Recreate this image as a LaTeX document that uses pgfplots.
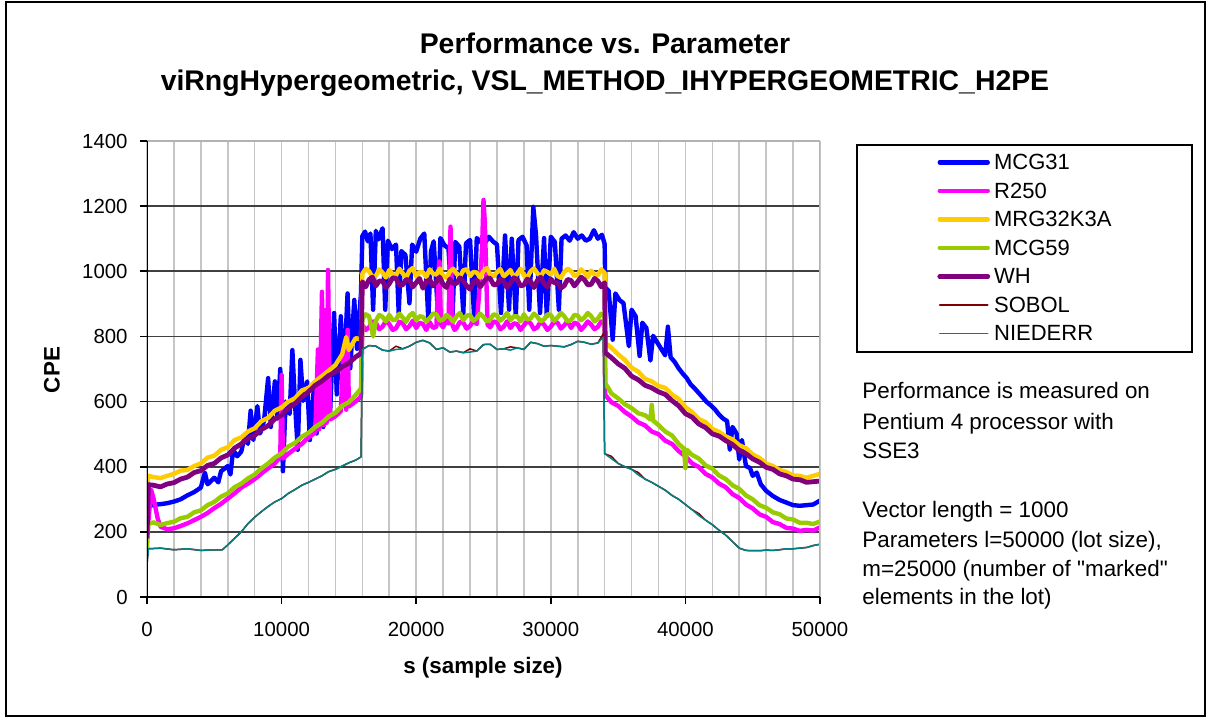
\documentclass[border=0pt]{standalone}
\usepackage{fontspec}
\setmainfont{Liberation Sans}[Ligatures=TeXOff]
\usepackage{pgfplots}
\pgfplotsset{compat=1.18}
\definecolor{cMCG31}{RGB}{0,0,255}
\definecolor{cR250}{RGB}{255,0,255}
\definecolor{cMRG}{RGB}{255,204,0}
\definecolor{cMCG59}{RGB}{153,204,0}
\definecolor{cWH}{RGB}{128,0,128}
\definecolor{cSOBOL}{RGB}{128,0,0}
\definecolor{cNIED}{RGB}{0,128,128}
\begin{document}
\begin{tikzpicture}
\begin{scope}[x=0.5pt,y=0.5pt]
\fill[white] (0,0) rectangle (1212,719);
\draw[black, line width=0.6pt] (6,3) rectangle (1205,717);
\node[anchor=base, font=\fontsize{14.2}{17}\selectfont\bfseries] at (605,665) {Performance vs. Parameter};
\node[anchor=base, font=\fontsize{14.2}{17}\selectfont\bfseries] at (605,628) {viRngHypergeometric, VSL\char95 METHOD\char95 IHYPERGEOMETRIC\char95 H2PE};
\node[rotate=90, font=\fontsize{11.2}{13}\selectfont\bfseries] at (52,349) {CPE};
\node[font=\fontsize{11.2}{13}\selectfont\bfseries] at (483,51) {s (sample size)};
\draw[black, line width=0.7pt] (857,367) rectangle (1192,574);
\begin{scope}[every node/.style={anchor=base west, inner sep=0pt, font=\fontsize{11.2}{13}\selectfont}]
\node at (862,321) {Performance is measured on};
\node at (862,289.5) {Pentium 4 processor with};
\node at (862,261) {SSE3};
\node at (862,201) {Vector length = 1000};
\node at (862,171) {Parameters l=50000 (lot size),};
\node at (862,142.5) {m=25000 (number of "marked"};
\node at (862,114.5) {elements in the lot)};
\end{scope}
\end{scope}
\begin{axis}[
  at={(73.5pt,61pt)}, anchor=south west,
  scale only axis, width=336.5pt, height=228pt,
  xmin=0, xmax=50000, ymin=0, ymax=1400,
  xtick={0,10000,...,50000}, ytick={0,200,...,1400},
  scaled x ticks=false, scaled y ticks=false,
  minor xtick={2000,4000,...,48000},
  xmajorgrids, xminorgrids, ymajorgrids,
  grid style={}, major grid style={}, minor grid style={},
  x grid style={gray!45, line width=0.8pt},
  y grid style={black!75, line width=0.9pt},
  tick align=outside, tick pos=left,
  major tick length=3.5pt, minor tick length=0pt,
  tick style={black, line width=0.8pt},
  axis line style={draw=none},
  ticklabel style={font=\fontsize{10.2}{12}\selectfont},
  /pgf/number format/assume math mode=true,
  /pgf/number format/1000 sep={},
  xticklabel style={anchor=north, inner sep=0pt, yshift=-9pt},
  yticklabel style={anchor=east, inner sep=0pt, xshift=-6pt},
  legend cell align=left,
  legend style={at={(1.1738,0.9715)}, anchor=north west, draw=none, fill=none,
    inner sep=0pt, row sep=6.25pt, column sep=2pt,
    nodes={inner sep=0pt, text height=7.6pt, text depth=0.4pt, font=\fontsize{11}{13}\selectfont}},
  legend image code/.code={\draw[#1, line cap=round] (1pt,0pt) -- (25pt,0pt);},
  line join=round,
]
\addplot[cMCG31, line width=2.2pt] table[row sep=\\] {x y\\
0 250\\ 200 280\\ 500 283\\ 1000 285\\ 1500 288\\ 2000 293\\ 2500 300\\ 3000 312\\ 3500 322\\ 4000 336\\ 4300 382\\ 4500 346\\ 5000 366\\ 5300 352\\ 5500 386\\ 6000 402\\ 6200 376\\ 6400 452\\ 6700 432\\ 7000 446\\ 7300 500\\ 7500 470\\ 7700 572\\ 7900 482\\ 8200 586\\ 8400 502\\ 8700 542\\ 9000 672\\ 9200 522\\ 9500 662\\ 9700 548\\ 9900 700\\ 10100 386\\ 10300 600\\ 10600 562\\ 10800 758\\ 11000 592\\ 11200 452\\ 11400 728\\ 11600 602\\ 11900 662\\ 12100 482\\ 12400 642\\ 12600 502\\ 12900 676\\ 13100 522\\ 13400 652\\ 13600 562\\ 13900 872\\ 14100 622\\ 14400 862\\ 14600 652\\ 14900 932\\ 15100 702\\ 15400 912\\ 15600 762\\ 15900 934\\
16000 1108\\ 16200 1122\\ 16400 1092\\ 16600 1116\\ 16800 882\\ 17000 1124\\ 17200 1098\\ 17500 1132\\ 17700 882\\ 17900 1094\\ 18200 1068\\ 18500 1082\\ 18700 872\\ 18900 1062\\ 19200 1050\\ 19500 902\\ 19700 1082\\ 20000 1060\\ 20300 1100\\ 20600 1116\\ 20900 852\\ 21100 1062\\ 21300 1092\\ 21600 882\\ 21800 1102\\ 22100 1080\\ 22400 1070\\ 22700 862\\ 22900 1090\\ 23200 1076\\ 23500 872\\ 23700 1086\\ 24000 1096\\ 24300 862\\ 24500 1102\\ 24800 1090\\ 25100 1086\\ 25400 1106\\ 25700 1092\\ 26000 1082\\ 26300 872\\ 26600 1110\\ 26900 882\\ 27100 1100\\ 27400 862\\ 27600 1096\\ 27900 1106\\ 28200 1080\\ 28400 882\\ 28700 1198\\ 28900 1112\\ 29200 872\\ 29500 1102\\ 29700 862\\ 30000 1106\\ 30300 1090\\ 30600 882\\ 30800 1100\\ 31100 1110\\ 31400 1094\\ 31700 1120\\ 32000 1100\\ 32300 1110\\ 32600 1094\\ 32900 1100\\ 33200 1126\\ 33500 1100\\ 33800 1112\\ 34000 1084\\
34050 950\\ 34300 940\\ 34600 790\\ 34800 932\\ 35100 912\\ 35400 902\\ 35800 770\\ 36000 882\\ 36300 862\\ 36600 740\\ 36800 842\\ 37100 826\\ 37400 726\\ 37600 802\\ 37900 782\\ 38200 762\\ 38500 742\\ 38700 830\\ 38900 736\\ 39200 722\\ 39500 702\\ 39800 686\\ 40100 672\\ 40400 652\\ 40700 640\\ 41000 626\\ 41300 612\\ 41600 598\\ 41900 588\\ 42200 576\\ 42500 560\\ 42800 548\\ 43100 540\\ 43300 452\\ 43500 522\\ 43800 502\\ 44000 422\\ 44200 482\\ 44500 402\\ 44800 396\\ 45000 372\\ 45300 382\\ 45600 346\\ 46000 326\\ 46500 310\\ 47000 298\\ 47500 290\\ 48000 282\\ 48500 280\\ 49000 282\\ 49500 284\\ 50000 296\\
};
\addlegendentry{MCG31}
\addplot[cR250, line width=2.2pt] table[row sep=\\] {x y\\
0 180\\ 150 255\\ 300 330\\ 500 300\\ 800 240\\ 1000 216\\ 1500 208\\ 2000 211\\ 2500 218\\ 3000 226\\ 3500 236\\ 4000 246\\ 4500 258\\ 5000 273\\ 5500 286\\ 6000 302\\ 6500 318\\ 7000 336\\ 7500 348\\ 8000 362\\ 8500 379\\ 9000 395\\ 9500 410\\ 9900 430\\ 10000 682\\ 10100 425\\ 10500 440\\ 11000 455\\ 11500 470\\ 12000 490\\ 12500 505\\ 12700 760\\ 12800 515\\ 13000 937\\ 13100 528\\ 13250 880\\ 13350 535\\ 13450 1004\\ 13600 545\\ 14000 555\\ 14400 570\\ 14600 760\\ 14800 575\\ 14900 820\\ 15000 585\\ 15500 600\\ 15900 615\\
16000 835\\ 16250 820\\ 16500 828\\ 16750 846\\ 17000 842\\ 17250 822\\ 17500 830\\ 17750 848\\ 18000 838\\ 18250 820\\ 18500 825\\ 18750 845\\ 19000 840\\ 19250 822\\ 19500 832\\ 19750 848\\ 20000 826\\ 20250 842\\ 20500 838\\ 20750 820\\ 21000 844\\ 21250 826\\ 21500 830\\ 21700 1030\\ 21850 836\\ 22000 828\\ 22200 846\\ 22400 840\\ 22550 1137\\ 22700 834\\ 22850 820\\ 23000 826\\ 23250 845\\ 23500 842\\ 23750 824\\ 24000 832\\ 24250 848\\ 24500 838\\ 24800 1000\\ 24900 1080\\ 25000 1219\\ 25100 1150\\ 25200 1000\\ 25300 836\\ 25500 828\\ 25750 846\\ 26000 842\\ 26250 822\\ 26500 830\\ 26750 846\\ 27000 826\\ 27250 840\\ 27500 838\\ 27750 820\\ 28000 834\\ 28250 848\\ 28500 840\\ 28750 822\\ 29000 828\\ 29250 846\\ 29500 836\\ 29750 820\\ 30000 830\\ 30250 845\\ 30500 842\\ 30750 824\\ 31000 834\\ 31250 848\\ 31500 826\\ 31750 842\\ 32000 838\\ 32250 820\\ 32500 832\\ 32750 846\\ 33000 836\\ 33250 822\\ 33500 830\\ 33750 846\\ 34000 838\\
34050 620\\ 34500 598\\ 35000 587\\ 35500 568\\ 36000 554\\ 36500 536\\ 37000 527\\ 37500 508\\ 38000 500\\ 38500 480\\ 39000 470\\ 39500 448\\ 40000 432\\ 40500 410\\ 41000 399\\ 41500 378\\ 42000 367\\ 42500 348\\ 43000 337\\ 43500 316\\ 44000 304\\ 44500 284\\ 45000 272\\ 45500 254\\ 46000 246\\ 46500 230\\ 47000 224\\ 47500 212\\ 48000 210\\ 48500 203\\ 49000 206\\ 49500 204\\ 50000 214\\
};
\addlegendentry{R250}
\addplot[cMRG, line width=2.2pt] table[row sep=\\] {x y\\
0 330\\ 100 372\\ 500 368\\ 1000 365\\ 1500 372\\ 2000 378\\ 2500 388\\ 3000 390\\ 3500 402\\ 4000 410\\ 4500 428\\ 5000 434\\ 5500 452\\ 6000 460\\ 6500 482\\ 7000 490\\ 7500 508\\ 8000 518\\ 8500 540\\ 9000 550\\ 9500 572\\ 10000 582\\ 10500 600\\ 11000 610\\ 11500 634\\ 12000 642\\ 12500 662\\ 13000 678\\ 13500 695\\ 14000 712\\ 14500 745\\ 14800 798\\ 15000 758\\ 15500 795\\ 15900 790\\
16000 992\\ 16250 1008\\ 16500 1000\\ 16750 983\\ 17000 985\\ 17250 1006\\ 17500 996\\ 17750 981\\ 18000 1004\\ 18250 990\\ 18500 987\\ 18750 1008\\ 19000 993\\ 19250 980\\ 19500 1002\\ 19750 1010\\ 20000 984\\ 20250 998\\ 20500 997\\ 20750 982\\ 21000 1006\\ 21250 992\\ 21500 990\\ 21750 1009\\ 22000 986\\ 22250 980\\ 22500 999\\ 22750 1008\\ 23000 992\\ 23250 983\\ 23500 1003\\ 23750 1006\\ 24000 985\\ 24250 998\\ 24500 996\\ 24750 981\\ 25000 1001\\ 25250 1010\\ 25500 990\\ 25750 984\\ 26000 997\\ 26250 1007\\ 26500 984\\ 26750 993\\ 27000 1004\\ 27250 982\\ 27500 992\\ 27750 1008\\ 28000 988\\ 28250 981\\ 28500 1000\\ 28750 1009\\ 29000 994\\ 29250 983\\ 29500 1003\\ 29750 998\\ 30000 990\\ 30250 1008\\ 30500 985\\ 30750 980\\ 31000 998\\ 31250 1008\\ 31500 1001\\ 31750 986\\ 32000 989\\ 32250 1006\\ 32500 996\\ 32750 982\\ 33000 1002\\ 33250 990\\ 33500 988\\ 33750 1006\\ 34000 995\\
34050 780\\ 34500 765\\ 35000 745\\ 35500 728\\ 36000 704\\ 36500 692\\ 37000 670\\ 37500 662\\ 38000 648\\ 38500 642\\ 39000 622\\ 39500 608\\ 40000 583\\ 40500 568\\ 41000 546\\ 41500 537\\ 42000 516\\ 42500 507\\ 43000 493\\ 43500 484\\ 44000 466\\ 44500 457\\ 45000 438\\ 45500 427\\ 46000 410\\ 46500 402\\ 47000 390\\ 47500 384\\ 48000 373\\ 48500 372\\ 49000 366\\ 49500 372\\ 50000 378\\
};
\addlegendentry{MRG32K3A}
\addplot[cMCG59, line width=2.2pt] table[row sep=\\] {x y\\
0 150\\ 100 226\\ 500 229\\ 1000 221\\ 1500 227\\ 2000 231\\ 2500 242\\ 3000 246\\ 3500 260\\ 4000 266\\ 4500 282\\ 5000 292\\ 5500 308\\ 6000 318\\ 6500 337\\ 7000 348\\ 7500 364\\ 8000 376\\ 8500 395\\ 9000 410\\ 9500 428\\ 10000 441\\ 10500 462\\ 11000 473\\ 11500 492\\ 12000 504\\ 12500 522\\ 13000 535\\ 13500 554\\ 14000 566\\ 14500 587\\ 15000 598\\ 15500 620\\ 15900 640\\
16000 852\\ 16250 868\\ 16500 862\\ 16800 800\\ 17000 848\\ 17250 866\\ 17500 860\\ 17750 846\\ 18000 866\\ 18250 850\\ 18500 852\\ 18750 870\\ 19000 858\\ 19250 845\\ 19500 864\\ 19750 872\\ 20000 850\\ 20250 862\\ 20500 860\\ 20750 846\\ 21000 856\\ 21250 870\\ 21500 868\\ 21750 848\\ 22000 852\\ 22250 866\\ 22500 858\\ 22750 845\\ 23000 862\\ 23250 872\\ 23500 850\\ 23750 864\\ 24000 866\\ 24250 848\\ 24500 856\\ 24750 870\\ 25000 860\\ 25250 846\\ 25500 852\\ 25750 868\\ 26000 864\\ 26250 848\\ 26500 858\\ 26750 872\\ 27000 850\\ 27250 862\\ 27500 862\\ 27750 846\\ 28000 868\\ 28250 852\\ 28500 855\\ 28750 870\\ 29000 860\\ 29250 846\\ 29500 852\\ 29750 868\\ 30000 866\\ 30250 848\\ 30500 858\\ 30750 872\\ 31000 862\\ 31250 846\\ 31500 850\\ 31750 866\\ 32000 864\\ 32250 850\\ 32500 858\\ 32750 872\\ 33000 862\\ 33250 846\\ 33500 855\\ 33750 870\\ 34000 860\\
34050 655\\ 34300 640\\ 34500 625\\ 35000 610\\ 35500 592\\ 36000 580\\ 36500 564\\ 37000 558\\ 37400 545\\ 37500 590\\ 37600 542\\ 38000 528\\ 38500 508\\ 39000 496\\ 39500 470\\ 39900 455\\ 40000 396\\ 40100 452\\ 40500 436\\ 41000 425\\ 41500 404\\ 42000 394\\ 42500 373\\ 43000 362\\ 43500 343\\ 44000 332\\ 44500 312\\ 45000 300\\ 45500 282\\ 46000 274\\ 46500 260\\ 47000 254\\ 47500 241\\ 48000 238\\ 48500 228\\ 49000 228\\ 49500 224\\ 50000 232\\
};
\addlegendentry{MCG59}
\addplot[cWH, line width=2.4pt] table[row sep=\\] {x y\\
0 180\\ 100 345\\ 500 343\\ 1000 338\\ 1500 347\\ 2000 351\\ 2500 362\\ 3000 368\\ 3500 382\\ 4000 388\\ 4500 404\\ 5000 410\\ 5500 427\\ 6000 436\\ 6500 457\\ 7000 470\\ 7500 487\\ 8000 496\\ 8500 514\\ 9000 526\\ 9500 547\\ 10000 558\\ 10500 580\\ 11000 593\\ 11500 614\\ 11900 626\\ 12500 650\\ 13000 663\\ 13500 680\\ 14000 690\\ 14500 707\\ 15000 718\\ 15500 737\\ 15900 748\\
16000 968\\ 16250 952\\ 16500 975\\ 16750 982\\ 17000 955\\ 17250 970\\ 17500 970\\ 17750 950\\ 18000 962\\ 18250 980\\ 18500 978\\ 18750 958\\ 19000 958\\ 19250 975\\ 19500 972\\ 19750 952\\ 20000 965\\ 20250 978\\ 20500 948\\ 20750 968\\ 21000 974\\ 21250 955\\ 21500 968\\ 21750 982\\ 22000 960\\ 22250 950\\ 22500 976\\ 22750 962\\ 23000 963\\ 23250 980\\ 23500 970\\ 23750 955\\ 24000 945\\ 24250 968\\ 24500 972\\ 24750 952\\ 25000 966\\ 25250 980\\ 25500 978\\ 25750 958\\ 26000 960\\ 26250 976\\ 26500 970\\ 26750 950\\ 27000 964\\ 27250 980\\ 27500 975\\ 27750 955\\ 28000 958\\ 28250 976\\ 28500 968\\ 28750 950\\ 29000 972\\ 29250 982\\ 29500 962\\ 29750 952\\ 30000 976\\ 30250 965\\ 30500 966\\ 30750 948\\ 31000 956\\ 31250 975\\ 31500 972\\ 31750 955\\ 32000 968\\ 32250 982\\ 32500 974\\ 32750 958\\ 33000 960\\ 33250 978\\ 33500 970\\ 33750 952\\ 34000 965\\
34050 750\\ 34500 735\\ 35000 716\\ 35500 702\\ 36000 678\\ 36500 667\\ 37000 650\\ 37500 642\\ 38000 630\\ 38500 622\\ 39000 603\\ 39500 587\\ 40000 563\\ 40500 552\\ 41000 531\\ 41500 520\\ 42000 501\\ 42500 494\\ 43000 480\\ 43500 468\\ 44000 450\\ 44500 440\\ 45000 424\\ 45500 414\\ 46000 398\\ 46500 392\\ 47000 378\\ 47500 372\\ 48000 362\\ 48500 360\\ 49000 352\\ 49500 354\\ 50000 356\\
};
\addlegendentry{WH}
\addplot[cSOBOL, line width=0.75pt] table[row sep=\\] {x y\\
0 100\\ 100 148\\ 1000 150\\ 2000 145\\ 3000 148\\ 4000 143\\ 5000 145\\ 5600 145\\ 6000 160\\ 6500 180\\ 7000 200\\ 7500 225\\ 8000 245\\ 8500 262\\ 9000 278\\ 9500 292\\ 10000 302\\ 10500 318\\ 11000 330\\ 11500 343\\ 12000 352\\ 12500 362\\ 13000 372\\ 13500 385\\ 14000 392\\ 14500 402\\ 15000 412\\ 15500 420\\ 15900 430\\ 16000 760\\ 16500 772\\ 17000 770\\ 17500 758\\ 18000 755\\ 18500 770\\ 19000 762\\ 19500 770\\ 20000 782\\ 20500 788\\ 21000 780\\ 21500 760\\ 22000 765\\ 22500 752\\ 23000 755\\ 23500 750\\ 24000 762\\ 24500 755\\ 25000 775\\ 25500 776\\ 26000 760\\ 26500 762\\ 27000 768\\ 27500 765\\ 28000 760\\ 28500 782\\ 29000 778\\ 29500 770\\ 30000 772\\ 30500 770\\ 31000 768\\ 31500 775\\ 32000 785\\ 32500 782\\ 33000 776\\ 33500 780\\ 33900 808\\ 34000 440\\ 34500 432\\ 35000 410\\ 35500 400\\ 36000 392\\ 36500 382\\ 37000 362\\ 37500 352\\ 38000 340\\ 38500 328\\ 39000 312\\ 39500 300\\ 40000 284\\ 40500 268\\ 41000 256\\ 41500 236\\ 42000 222\\ 42500 205\\ 43000 190\\ 43500 170\\ 44000 150\\ 44500 143\\ 45000 142\\ 45500 142\\ 46000 144\\ 46500 143\\ 47000 145\\ 47500 148\\ 48000 148\\ 48500 150\\ 49000 152\\ 49500 158\\ 50000 162\\
};
\addlegendentry{SOBOL}
\addplot[cNIED, line width=0.75pt] table[row sep=\\] {x y\\
0 100\\ 100 148\\ 1000 150\\ 2000 145\\ 3000 148\\ 4000 143\\ 5000 145\\ 5600 145\\ 6000 160\\ 6500 180\\ 7000 200\\ 7500 225\\ 8000 245\\ 8500 262\\ 9000 278\\ 9500 292\\ 10000 302\\ 10500 318\\ 11000 330\\ 11500 343\\ 12000 352\\ 12500 362\\ 13000 372\\ 13500 385\\ 14000 392\\ 14500 402\\ 15000 412\\ 15500 420\\ 15900 430\\ 16000 760\\ 16500 772\\ 17000 770\\ 17500 758\\ 18000 755\\ 18500 760\\ 19000 762\\ 19500 770\\ 20000 782\\ 20500 788\\ 21000 780\\ 21500 760\\ 22000 765\\ 22500 752\\ 23000 755\\ 23500 750\\ 24000 752\\ 24500 755\\ 25000 775\\ 25500 776\\ 26000 760\\ 26500 762\\ 27000 758\\ 27500 765\\ 28000 760\\ 28500 782\\ 29000 778\\ 29500 770\\ 30000 772\\ 30500 770\\ 31000 768\\ 31500 775\\ 32000 785\\ 32500 782\\ 33000 776\\ 33500 780\\ 33900 798\\ 34000 440\\ 34500 425\\ 35000 410\\ 35500 400\\ 36000 392\\ 36500 375\\ 37000 362\\ 37500 352\\ 38000 340\\ 38500 328\\ 39000 312\\ 39500 300\\ 40000 284\\ 40500 268\\ 41000 250\\ 41500 236\\ 42000 222\\ 42500 205\\ 43000 190\\ 43500 170\\ 44000 150\\ 44500 143\\ 45000 142\\ 45500 142\\ 46000 144\\ 46500 143\\ 47000 145\\ 47500 148\\ 48000 148\\ 48500 150\\ 49000 152\\ 49500 158\\ 50000 162\\
};
\addlegendentry{NIEDERR}
\draw[gray!60, line width=0.9pt] (rel axis cs:0,1) -- (rel axis cs:1,1) -- (rel axis cs:1,0);
\draw[black, line width=0.9pt] (rel axis cs:0,1) -- (rel axis cs:0,0) -- (rel axis cs:1,0);
\end{axis}
\end{tikzpicture}
\end{document}
